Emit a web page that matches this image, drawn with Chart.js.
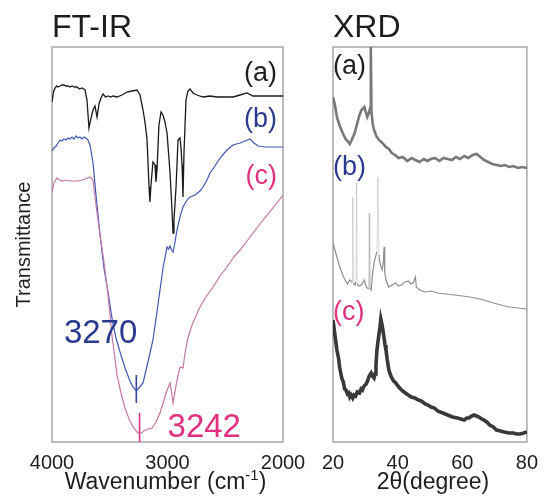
<!DOCTYPE html>
<html>
<head>
<meta charset="utf-8">
<script src="https://cdn.jsdelivr.net/npm/chart.js@4.4.0/dist/chart.umd.min.js"></script>
<style>
  body { margin: 0; background: #fff; }
  #wrap { position: relative; width: 547px; height: 498px; }
  .panel { position: absolute; top: 0; height: 498px; }
  #irBox { left: 0; width: 320px; }
  #xrdBox { left: 300px; width: 247px; }
</style>
</head>
<body>
<div id="wrap">
  <div class="panel" id="irBox"><canvas id="irChart"></canvas></div>
  <div class="panel" id="xrdBox"><canvas id="xrdChart"></canvas></div>
</div>
<script>
// ---- FT-IR data (transmittance in a.u.) ----
const irTicks = [4000, 3000, 2000];
const irAWave = [4000, 3987, 3974, 3960, 3948, 3931, 3915, 3896, 3880, 3861, 3845, 3827, 3805, 3784, 3762, 3740, 3714, 3697, 3680, 3662, 3645, 3628, 3610, 3593, 3576, 3558, 3537, 3515, 3493, 3472, 3437, 3394, 3351, 3307, 3264, 3238, 3212, 3195, 3177, 3160, 3152, 3143, 3126, 3108, 3100, 3091, 3074, 3056, 3039, 3022, 3004, 2978, 2961, 2952, 2944, 2926, 2909, 2892, 2883, 2874, 2866, 2857, 2840, 2823, 2805, 2779, 2745, 2693, 2632, 2571, 2502, 2433, 2372, 2312, 2260, 2199, 2113, 2000];
const irAT = [340, 350, 354, 356, 355, 356, 357, 357, 356, 356, 355, 356, 355, 355, 353, 354, 352, 342, 314, 324, 332, 336, 325, 338, 344, 348, 345, 346, 345, 346, 345, 347, 350, 351, 352, 347, 332, 320, 302, 255, 240, 257, 280, 277, 260, 272, 317, 330, 327, 320, 309, 269, 232, 209, 222, 255, 302, 304, 294, 277, 245, 290, 342, 351, 353, 349, 347, 345, 346, 345, 345, 345, 347, 349, 346, 346, 346, 346];
const irBWave = [4000, 3982, 3965, 3948, 3931, 3914, 3896, 3878, 3861, 3844, 3827, 3810, 3792, 3775, 3758, 3740, 3723, 3705, 3688, 3671, 3645, 3619, 3584, 3550, 3515, 3481, 3446, 3411, 3368, 3325, 3299, 3270, 3255, 3212, 3169, 3126, 3091, 3065, 3039, 3022, 3004, 2990, 2978, 2965, 2952, 2935, 2918, 2892, 2866, 2831, 2805, 2762, 2719, 2693, 2658, 2632, 2589, 2545, 2485, 2433, 2372, 2329, 2286, 2251, 2216, 2156, 2095, 2000];
const irBT = [291, 294, 296, 299, 302, 301, 303, 302, 304, 303, 305, 303, 306, 304, 305, 303, 305, 304, 302, 297, 279, 247, 207, 174, 150, 124, 104, 90, 74, 61, 55, 51, 53, 59, 80, 102, 130, 152, 174, 184, 195, 193, 196, 192, 190, 200, 212, 225, 235, 242, 245, 247, 251, 255, 262, 269, 276, 284, 292, 297, 299, 301, 303, 299, 296, 295, 295, 295];
const irCWave = [4000, 3983, 3957, 3935, 3913, 3880, 3844, 3810, 3775, 3740, 3714, 3671, 3645, 3619, 3584, 3550, 3515, 3481, 3437, 3403, 3368, 3333, 3299, 3264, 3242, 3203, 3169, 3134, 3100, 3065, 3030, 3004, 2978, 2961, 2952, 2935, 2918, 2892, 2866, 2848, 2823, 2788, 2719, 2667, 2606, 2545, 2485, 2433, 2372, 2286, 2173, 2052, 2000];
const irCT = [250, 259, 264, 262, 261, 262, 261, 261, 261, 262, 263, 265, 262, 237, 207, 180, 147, 107, 67, 49, 34, 23, 15, 10, 8, 11, 13, 14, 20, 29, 42, 52, 59, 47, 39, 50, 62, 75, 74, 89, 104, 117, 135, 145, 155, 166, 175, 184, 192, 205, 222, 239, 247];
const irPeaks = [3270, 3242];
const irPeakTop = [67, 29];
const irPeakBottom = [39, 0];

// ---- XRD data (intensity in a.u.) ----
const xrdTicks = [20, 40, 60, 80];
const xrdATheta = [20, 20.6, 21.2, 22.1, 23.0, 23.9, 24.5, 25.2, 25.8, 26.7, 27.6, 28.2, 28.8, 29.7, 30.6, 31.2, 31.5, 31.7, 31.9, 32.3, 32.7, 33.4, 34.2, 35.3, 36.4, 37.3, 38.2, 39.2, 40.3, 41.6, 43.0, 44.3, 45.5, 46.8, 48.1, 49.2, 50.3, 51.6, 52.9, 54.2, 55.5, 56.8, 58.0, 59.3, 60.6, 61.9, 63.2, 64.5, 65.6, 66.7, 68.0, 69.3, 70.6, 71.9, 73.2, 74.5, 75.8, 77.2, 78.6, 80];
const xrdAI = [345, 337, 325, 316, 309, 303, 301, 298, 302, 309, 320, 327, 332, 335, 325, 330, 334, 395, 330, 318, 312, 306, 302, 299, 295, 293, 289, 287, 284, 285, 281, 284, 282, 280, 283, 281, 283, 284, 281, 284, 283, 282, 285, 283, 286, 284, 287, 288, 285, 282, 280, 278, 277, 276, 277, 275, 276, 274, 275, 274];
const xrdBTheta = [20, 20.6, 21.2, 22.1, 23.0, 23.9, 24.5, 25.2, 25.9, 26.1, 26.3, 26.8, 27.1, 27.3, 27.5, 28.0, 28.8, 29.7, 30.3, 31.0, 31.2, 31.4, 31.8, 32.3, 32.9, 33.6, 33.9, 34.2, 34.6, 35.2, 35.6, 35.8, 36.0, 36.4, 37.3, 38.3, 39.4, 40.3, 41.2, 42.2, 43.3, 44.1, 44.8, 45.5, 45.8, 46.8, 48.5, 50.5, 52.4, 55.0, 57.6, 60.0, 62.4, 65.5, 67.6, 69.7, 72.0, 74.5, 77.2, 80];
const xrdBI = [199, 192, 185, 175, 167, 161, 158, 162, 160, 245, 159, 157, 160, 259, 158, 156, 157, 162, 155, 153, 229, 154, 152, 170, 182, 190, 265, 187, 178, 172, 180, 195, 170, 162, 155, 157, 159, 156, 157, 160, 161, 158, 159, 165, 155, 152, 150, 151, 149, 148, 147, 146, 145, 143, 141, 139, 137, 135, 134, 133];
const xrdCTheta = [20, 20.6, 21.2, 21.7, 22.1, 22.7, 23.2, 23.6, 24.0, 24.5, 24.9, 25.2, 25.6, 26.1, 26.5, 27.0, 27.5, 28.2, 28.7, 29.1, 29.6, 30.3, 30.8, 31.2, 31.8, 32.2, 32.7, 33.0, 33.3, 33.6, 33.9, 34.2, 34.5, 34.8, 35.2, 35.5, 35.8, 36.1, 36.4, 36.8, 37.3, 37.8, 38.2, 38.8, 39.4, 40.1, 40.9, 41.6, 42.4, 43.3, 44.2, 45.3, 46.4, 47.4, 48.5, 49.4, 50.3, 51.4, 52.4, 54.0, 55.5, 57.0, 58.5, 59.6, 60.6, 61.4, 62.1, 62.9, 63.6, 64.4, 65.2, 66.0, 66.7, 67.6, 68.5, 69.6, 70.6, 71.8, 73.0, 74.4, 75.8, 76.9, 77.9, 79.0, 80];
const xrdCI = [122, 107, 92, 84, 74, 64, 60, 53, 52, 48, 49, 45, 47, 44, 47, 46, 50, 49, 53, 52, 56, 58, 62, 66, 69, 66, 64, 68, 77, 92, 100, 107, 114, 123, 117, 111, 104, 97, 92, 82, 72, 67, 64, 61, 59, 56, 53, 51, 49, 47, 45, 44, 42, 41, 38, 37, 35, 34, 31, 29, 27, 25, 24, 23, 22, 24, 24, 26, 27, 26, 25, 23, 22, 20, 17, 15, 12, 11, 10, 9, 9, 8, 8, 9, 10];

const FONT = "'Liberation Sans', Arial, Helvetica, sans-serif";
const INK = '#1e1e1e';
const BLUE = '#2b3a8f';
const PINK = '#e0307f';

function pts(xs, ys) {
  return xs.map((v, i) => ({ x: v, y: ys[i] }));
}

function drawFrame(chart) {
  const { ctx, chartArea: a } = chart;
  ctx.save();
  ctx.strokeStyle = '#a6a6a6';
  ctx.lineWidth = 1.5;
  ctx.strokeRect(a.left, a.top, a.right - a.left, a.bottom - a.top);
  ctx.restore();
}

function text(ctx, str, x, y, size, color, align, base) {
  ctx.font = size + 'px ' + FONT;
  ctx.fillStyle = color;
  ctx.textAlign = align || 'left';
  ctx.textBaseline = base || 'alphabetic';
  ctx.fillText(str, x, y);
}

function xAxis(min, max, ticks, reverse) {
  return {
    type: 'linear', min: min, max: max, reverse: reverse,
    afterBuildTicks: s => { s.ticks = ticks.map(v => ({ value: v })); },
    afterFit: s => { s.height = 56; },
    grid: { display: false, drawTicks: false },
    border: { display: false },
    ticks: {
      font: { family: FONT, size: 20 }, color: INK, padding: 9,
      maxRotation: 0, autoSkip: false,
      callback: v => String(v)
    }
  };
}

const baseOpts = {
  responsive: true,
  maintainAspectRatio: false,
  animation: false,
  plugins: { legend: { display: false }, tooltip: { enabled: false } },
  elements: { point: { radius: 0 }, line: { tension: 0 } }
};

const irDecor = {
  id: 'irDecor',
  beforeDatasetsDraw(chart) { drawFrame(chart); },
  afterDraw(chart) {
    const { ctx, chartArea: a, scales: { x, y } } = chart;
    ctx.save();
    text(ctx, 'FT-IR', a.left, 37, 32, INK);
    text(ctx, '(a)', a.right - 6, 74, 27, INK, 'right', 'middle');
    text(ctx, '(b)', a.right - 6, 120, 27, BLUE, 'right', 'middle');
    text(ctx, '(c)', a.right - 6, 177, 27, PINK, 'right', 'middle');
    text(ctx, String(irPeaks[0]), x.getPixelForValue(irPeaks[0]) + 1, y.getPixelForValue(99), 33, BLUE, 'right');
    text(ctx, String(irPeaks[1]), x.getPixelForValue(irPeaks[1]) + 28, y.getPixelForValue(5), 33, PINK, 'left');
    // y-axis title
    ctx.save();
    ctx.translate(24, (a.top + a.bottom) / 2);
    ctx.rotate(-Math.PI / 2);
    text(ctx, 'Transmittance', 0, 0, 20, INK, 'center', 'middle');
    ctx.restore();
    // x-axis title with superscript
    const size = 23, sup = 15;
    ctx.font = size + 'px ' + FONT;
    const w1 = ctx.measureText('Wavenumber (cm').width;
    const w3 = ctx.measureText(')').width;
    ctx.font = sup + 'px ' + FONT;
    const w2 = ctx.measureText('-1').width;
    let px = (a.left + a.right) / 2 - 2 - (w1 + w2 + w3) / 2;
    text(ctx, 'Wavenumber (cm', px, 489, size, INK);
    px += w1;
    text(ctx, '-1', px, 480, sup, INK);
    px += w2;
    text(ctx, ')', px, 489, size, INK);
    ctx.restore();
  }
};

const xrdDecor = {
  id: 'xrdDecor',
  beforeDatasetsDraw(chart) { drawFrame(chart); },
  afterDraw(chart) {
    const { ctx, chartArea: a } = chart;
    ctx.save();
    text(ctx, 'XRD', a.left, 37, 32, INK);
    text(ctx, '(a)', a.left, 67, 27, INK, 'left', 'middle');
    text(ctx, '(b)', a.left, 168, 27, BLUE, 'left', 'middle');
    text(ctx, '(c)', a.left, 313, 27, PINK, 'left', 'middle');
    text(ctx, '2\u03b8(degree)', (a.left + a.right) / 2 + 3, 489, 23, INK, 'center');
    ctx.restore();
  }
};

new Chart(document.getElementById('irChart'), {
  type: 'line',
  data: {
    datasets: [
      { data: pts(irCWave, irCT), borderColor: '#c478a6', borderWidth: 1.2 },
      { data: pts(irBWave, irBT), borderColor: '#3f58b2', borderWidth: 1.2 },
      { data: pts(irAWave, irAT), borderColor: '#1a1a1a', borderWidth: 1.3 },
      { data: [{ x: irPeaks[0], y: irPeakTop[0] }, { x: irPeaks[0], y: irPeakBottom[0] }], borderColor: '#34479c', borderWidth: 1.6 },
      { data: [{ x: irPeaks[1], y: irPeakTop[1] }, { x: irPeaks[1], y: irPeakBottom[1] }], borderColor: PINK, borderWidth: 1.6 }
    ]
  },
  options: Object.assign({}, baseOpts, {
    layout: { padding: { left: 52, right: 37, top: 47, bottom: 0 } },
    scales: {
      x: xAxis(2000, 4000, irTicks, true),
      y: { type: 'linear', min: 0, max: 395, display: false }
    }
  }),
  plugins: [irDecor]
});

new Chart(document.getElementById('xrdChart'), {
  type: 'line',
  data: {
    datasets: [
      { data: pts(xrdCTheta, xrdCI), borderColor: 'rgba(30,30,30,0.88)', borderWidth: 3.6 },
      {
        data: pts(xrdBTheta, xrdBI), borderColor: '#8e8e8e', borderWidth: 1.2,
        // sharp reflections are drawn as faint hairlines, as in the scan
        segment: {
          borderColor: c => Math.abs(c.p1.parsed.y - c.p0.parsed.y) > 25 ? 'rgba(160,160,160,0.5)' : undefined,
          borderWidth: c => Math.abs(c.p1.parsed.y - c.p0.parsed.y) > 25 ? 0.8 : undefined
        }
      },
      { data: pts(xrdATheta, xrdAI), borderColor: 'rgba(105,105,105,0.9)', borderWidth: 2.6 }
    ]
  },
  options: Object.assign({}, baseOpts, {
    layout: { padding: { left: 33, right: 16, top: 47, bottom: 0 } },
    scales: {
      x: xAxis(20, 80, xrdTicks, false),
      y: { type: 'linear', min: 0, max: 395, display: false }
    }
  }),
  plugins: [xrdDecor]
});
</script>
</body>
</html>
